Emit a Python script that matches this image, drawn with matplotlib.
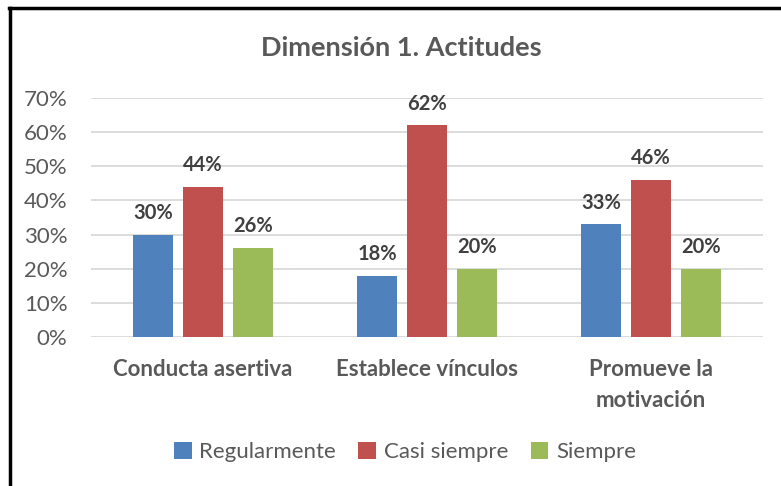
import matplotlib
matplotlib.use("Agg")
import matplotlib.pyplot as plt
import numpy as np
from matplotlib.lines import Line2D
from matplotlib.patches import Patch

categories = ["Conducta asertiva", "Establece vínculos", "Promueve la\nmotivación"]
series_names = ["Regularmente", "Casi siempre", "Siempre"]
regularmente = [0.30, 0.18, 0.33]
casi_siempre = [0.44, 0.62, 0.46]
siempre = [0.26, 0.20, 0.20]
values = [regularmente, casi_siempre, siempre]
colors = ["#4F81BD", "#C0504D", "#9BBB59"]
yticks = [0, 0.1, 0.2, 0.3, 0.4, 0.5, 0.6, 0.7]

plt.rcParams['font.family'] = ['Lato', 'DejaVu Sans']
txt = "#595959"

fig = plt.figure(figsize=(7.81, 4.86), dpi=100)
ax = fig.add_axes([91/781, 1-337/486, 672/781, 239/486])

x = np.arange(len(categories))
bw = 0.178
step = 0.223
for i, (vals, c) in enumerate(zip(values, colors)):
    pos = x + (i - 1) * step
    ax.bar(pos, vals, width=bw, color=c, zorder=3, label=series_names[i])
    for p, v in zip(pos, vals):
        ax.annotate(f"{round(v*100):.0f}%", (p, v), xytext=(0, 8.5), textcoords="offset points",
                    ha="center", va="bottom", fontsize=14.5, fontweight="bold", color="#404040")

ax.set_xlim(-0.5, 2.5)
ax.set_ylim(0, 0.7)
ax.set_yticks(yticks)
ax.set_yticklabels([f"{int(round(t*100))}%" for t in yticks], fontsize=16, color=txt)
ax.set_xticks(x)
ax.set_xticklabels(categories, fontsize=16, fontweight="bold", color=txt, linespacing=1.6)
ax.tick_params(axis="both", length=0)
ax.tick_params(axis="x", pad=16)
ax.tick_params(axis="y", pad=17)
for s in ax.spines.values():
    s.set_visible(False)
ax.grid(axis="y", color="#D9D9D9", linewidth=1.3, zorder=0)
ax.set_axisbelow(True)

fig.text(401/781, 1-48/486, "Dimensión 1. Actitudes", ha="center", va="center",
         fontsize=19.5, fontweight="bold", color=txt)

handles = [Patch(facecolor=c) for c in colors]
fig.legend(handles, series_names, loc="center", bbox_to_anchor=(405/781, 1-452/486), ncol=3,
           frameon=False, fontsize=16, handlelength=0.8, handleheight=0.8, handletextpad=0.35,
           columnspacing=1.0, labelcolor=txt)

# border
fig.add_artist(Line2D([9/781, 1.0], [1-8/486, 1-8/486], color="black", linewidth=2.5, transform=fig.transFigure))
fig.add_artist(Line2D([10/781, 10/781], [0, 1-8/486], color="black", linewidth=2.5, transform=fig.transFigure))

fig.savefig("out.png", dpi=100)
